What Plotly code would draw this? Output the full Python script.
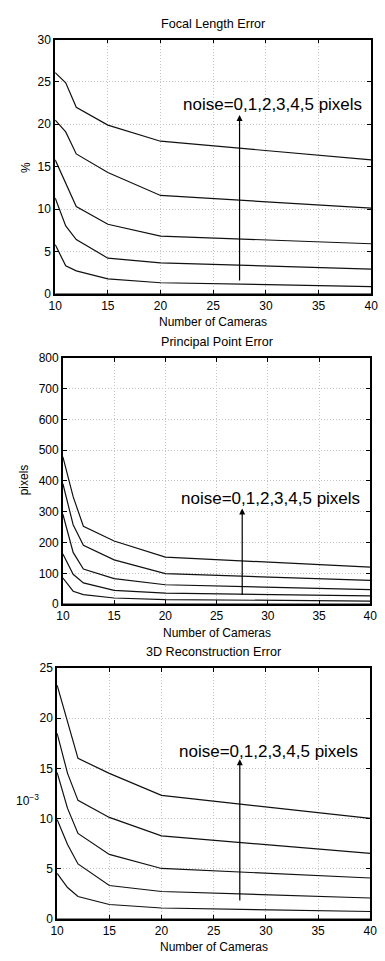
import plotly.graph_objects as go

# ---------------- data ----------------
num_cameras = [10, 11, 12, 15, 20, 40]
noise_levels = [0, 1, 2, 3, 4, 5]

focal_error = {
    0: [0, 0, 0, 0, 0, 0],
    1: [5.8, 3.3, 2.7, 1.75, 1.3, 0.85],
    2: [11.3, 8.0, 6.4, 4.2, 3.65, 2.9],
    3: [15.8, 13.0, 10.3, 8.2, 6.8, 5.9],
    4: [20.5, 19.1, 16.5, 14.3, 11.6, 10.1],
    5: [26.1, 24.9, 22.0, 19.9, 18.0, 15.8],
}
principal_error = {
    0: [0, 0, 0, 0, 0, 0],
    1: [85, 42, 31, 20, 15, 10],
    2: [163, 97, 69, 45, 36, 27],
    3: [292, 168, 114, 83, 63, 47],
    4: [391, 258, 191, 144, 99, 77],
    5: [478, 349, 253, 205, 153, 120],
}
recon_error = {
    0: [0, 0, 0, 0, 0, 0],
    1: [4.5, 3.1, 2.2, 1.4, 1.05, 0.7],
    2: [9.9, 7.4, 5.45, 3.3, 2.7, 2.05],
    3: [14.6, 11.0, 8.5, 6.4, 5.0, 4.05],
    4: [18.5, 14.5, 11.8, 10.1, 8.25, 6.5],
    5: [23.3, 19.6, 16.0, 14.5, 12.3, 10.0],
}

titles = ["Focal Length Error", "Principal Point Error", "3D Reconstruction Error"]
y_ranges = [[0, 30], [0, 800], [0, 25]]
y_dticks = [5, 100, 5]
arrow_x = 27.5
arrow_tail = [0.55, 2, 0.95]
arrow_tip = [21.1, 311, 15.9]
label_pos = [(30.6, 22.35), (30.3, 343), (30.26, 16.7)]
label_text = "noise=0,1,2,3,4,5 pixels"

# ---------------- layout geometry (pixels) ----------------
W, H = 385, 961
panels = [  # left, right, top, bottom in px
    (50, 378, 33, 291),
    (58, 377, 356, 606),
    (52, 377, 671, 925),
]

FONT = "Liberation Sans, Arial, Helvetica, sans-serif"

fig = go.Figure()
datasets = [focal_error, principal_error, recon_error]
for i, data in enumerate(datasets):
    xa = "x" if i == 0 else f"x{i+1}"
    ya = "y" if i == 0 else f"y{i+1}"
    for n in noise_levels:
        fig.add_trace(go.Scatter(
            x=num_cameras, y=data[n], mode="lines",
            line=dict(color="#111111", width=1.2),
            xaxis=xa, yaxis=ya, showlegend=False, name=f"noise={n}",
            cliponaxis=True,
        ))

axis_common = dict(
    showline=True, linecolor="black", linewidth=1.6, mirror="allticks",
    ticks="inside", ticklen=4, tickcolor="black", tickwidth=1,
    showgrid=True, gridcolor="#c4c4c4", griddash="1px,2px", gridwidth=1,
    zeroline=False, tickfont=dict(family=FONT, size=12, color="black"),
)

layout = dict(
    width=W, height=H, margin=dict(l=0, r=0, t=0, b=0),
    paper_bgcolor="white", plot_bgcolor="white",
    font=dict(family=FONT, size=12, color="black"),
    showlegend=False,
)
annotations = []
for i, (l, r, t, b) in enumerate(panels):
    sfx = "" if i == 0 else str(i + 1)
    layout[f"xaxis{sfx}"] = dict(
        axis_common, domain=[l / W, r / W], range=[10, 40], dtick=5, tick0=10,
        anchor=f"y{sfx}",
    )
    layout[f"yaxis{sfx}"] = dict(
        axis_common, domain=[1 - b / H, 1 - t / H], range=y_ranges[i],
        dtick=y_dticks[i], tick0=0, anchor=f"x{sfx}",
    )
    cx = (l + r) / 2
    # panel title
    annotations.append(dict(
        text=titles[i], xref="paper", yref="paper", x=cx / W, y=1 - (t - 16) / H,
        xanchor="center", yanchor="middle", showarrow=False,
        font=dict(family=FONT, size=12.6),
    ))
    # x-axis title
    annotations.append(dict(
        text="Number of Cameras", xref="paper", yref="paper", x=cx / W,
        y=1 - (b + 29) / H, xanchor="center", yanchor="middle", showarrow=False,
        font=dict(family=FONT, size=12),
    ))
    # arrow
    annotations.append(dict(
        x=arrow_x, y=arrow_tip[i], ax=arrow_x, ay=arrow_tail[i],
        xref=f"x{sfx}", yref=f"y{sfx}", axref=f"x{sfx}", ayref=f"y{sfx}",
        text=" ", showarrow=True, arrowhead=2, arrowsize=1, arrowwidth=1.2,
        arrowcolor="black", standoff=0, startstandoff=0,
    ))
    # label
    annotations.append(dict(
        x=label_pos[i][0], y=label_pos[i][1], xref=f"x{sfx}", yref=f"y{sfx}",
        text=label_text, showarrow=False, xanchor="center", yanchor="middle",
        font=dict(family=FONT, size=17, color="black"),
    ))

# y-axis titles
annotations.append(dict(text="%", xref="paper", yref="paper", x=19 / W, y=1 - 163 / H,
                        textangle=-90, showarrow=False, xanchor="center", yanchor="middle",
                        font=dict(family=FONT, size=12)))
annotations.append(dict(text="pixels", xref="paper", yref="paper", x=18 / W, y=1 - 480 / H,
                        textangle=-90, showarrow=False, xanchor="center", yanchor="middle",
                        font=dict(family=FONT, size=12)))
annotations.append(dict(text="10<sup>\u22123</sup>", xref="paper", yref="paper", x=21 / W,
                        y=1 - 805 / H, showarrow=False, xanchor="center", yanchor="middle",
                        font=dict(family=FONT, size=12)))

layout["annotations"] = annotations
fig.update_layout(**layout)

fig.write_html(
    "out.html",
    config={"displayModeBar": False},
    post_script="document.body.style.margin='0';document.body.style.overflow='hidden';",
)
